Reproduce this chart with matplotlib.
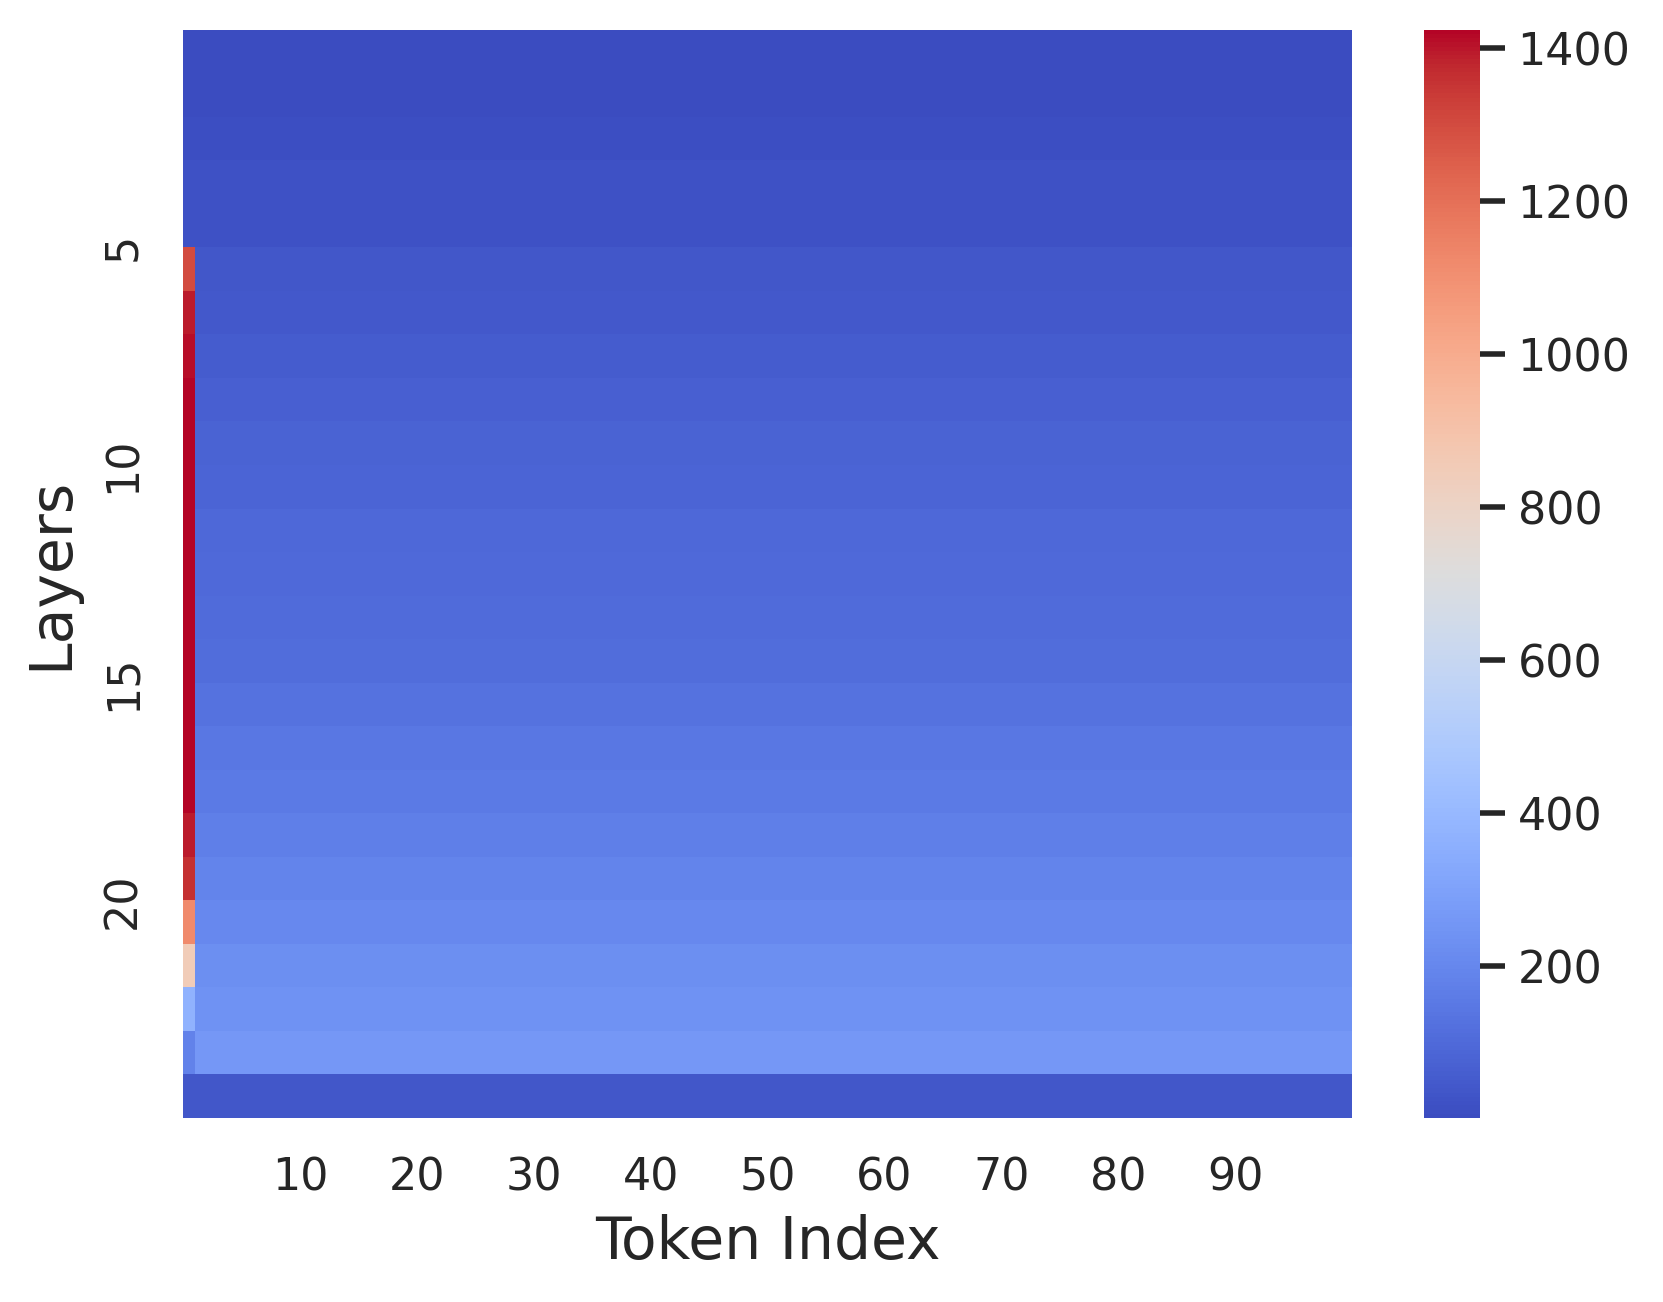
import numpy as np
import matplotlib
matplotlib.use("Agg")
import matplotlib.pyplot as plt
import seaborn as sns

# nilai per layer (25 layer, 100 token)
n_tokens = 100
first_token = [2, 5, 13, 19, 22, 1300, 1395, 1410, 1424, 1424, 1424, 1424, 1424,
               1424, 1424, 1424, 1424, 1424, 1395, 1360, 1120, 850, 370, 185, 36]
other_tokens = [3, 5, 13, 19, 22, 38, 44, 54, 67, 76, 83, 92, 99,
                106, 110, 126, 143, 153, 171, 189, 203, 225, 240, 263, 36]
x_ticks = [10, 20, 30, 40, 50, 60, 70, 80, 90]
y_ticks = [5, 10, 15, 20]

data = np.tile(np.array(other_tokens, dtype=float)[:, None], (1, n_tokens))
data[:, 0] = first_token

sns.set_theme(style="white")
fig = plt.figure(figsize=(8.315, 6.51), dpi=200)
ax = fig.add_axes([0.1103, 0.1413, 0.7027, 0.8359])
cax = fig.add_axes([0.8563, 0.1413, 0.0337, 0.8359])

sns.heatmap(data, cmap="coolwarm", ax=ax, cbar_ax=cax,
            xticklabels=False, yticklabels=False)

ax.set_xticks(x_ticks)
ax.set_xticklabels([str(t) for t in x_ticks], fontsize=16, rotation=0)
ax.set_yticks(y_ticks)
ax.set_yticklabels([str(t) for t in y_ticks], fontsize=16, rotation=90, va="center")
ax.tick_params(axis="both", length=0, pad=14, colors="#262626")
ax.set_xlabel("Token Index", fontsize=21, color="#262626", labelpad=5)
ax.set_ylabel("Layers", fontsize=21, color="#262626", labelpad=8)

cax.tick_params(length=9, width=2, pad=4.5, labelsize=16, colors="#262626")
cax.set_yticks([200, 400, 600, 800, 1000, 1200, 1400])

fig.savefig("out.png", dpi=200)
